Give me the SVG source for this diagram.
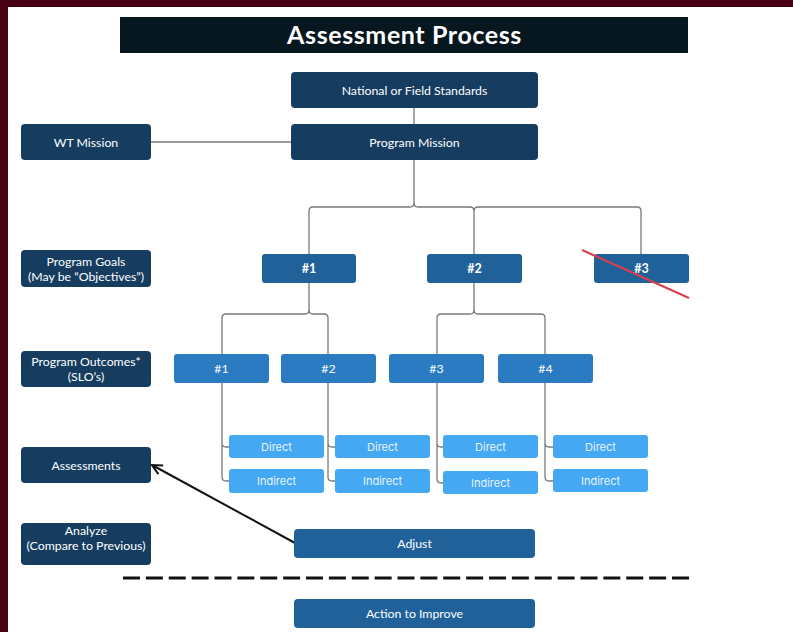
<svg xmlns="http://www.w3.org/2000/svg" width="793" height="632" viewBox="0 0 793 632">
<defs>
<style>
.navy{fill:#163d60}
.mid{fill:#21619a}
.out{fill:#2b7bc3}
.lt{fill:#45a8f3}
.t{font-family:"Lato","Open Sans",sans-serif;font-size:12.3px;fill:#ffffff;text-anchor:middle}
.tb{font-family:"Lato","Open Sans",sans-serif;font-size:12.5px;font-weight:bold;fill:#ffffff;text-anchor:middle}
.ti{font-family:"Inter","Open Sans",sans-serif;font-size:11px;fill:#e8f4ff;text-anchor:middle}
.c{fill:none;stroke:#7a7a7a;stroke-width:1.3}
</style>
<marker id="ah" viewBox="0 0 12 12" refX="11" refY="6" markerWidth="12" markerHeight="12" markerUnits="userSpaceOnUse" orient="auto">
<path d="M1,1 L11,6 L1,11" fill="none" stroke="#111" stroke-width="2"/>
</marker>
</defs>
<rect x="0" y="0" width="793" height="632" fill="#ffffff"/>
<rect x="0" y="0" width="793" height="7" fill="#4a0114"/>
<rect x="0" y="0" width="8" height="632" fill="#4a0114"/>

<g id="title">
<rect x="120" y="17" width="568" height="36" fill="#07171f"/>
<text x="404.5" y="43.5" font-family="Lato,'Open Sans',sans-serif" font-size="25" font-weight="bold" letter-spacing="0.6" fill="#ffffff" text-anchor="middle">Assessment Process</text>
</g>

<g id="connectors">
<path class="c" d="M414,108 V124"/>
<path class="c" d="M151,142 H291"/>
<path class="c" d="M414,160 V203 Q414,207 410,207 H313 Q309,207 309,211 V254"/>
<path class="c" d="M414,203 Q414,207 418,207 H470 Q474,207 474,211 V254"/>
<path class="c" d="M474,211 Q474,207 478,207 H637 Q641,207 641,211 V254"/>
<path class="c" d="M309,283 V310 Q309,314 305,314 H226 Q222,314 222,318 V354"/>
<path class="c" d="M309,310 Q309,314 313,314 H324 Q328,314 328,318 V354"/>
<path class="c" d="M474,283 V310 Q474,314 470,314 H441 Q437,314 437,318 V354"/>
<path class="c" d="M474,310 Q474,314 478,314 H541 Q545,314 545,318 V354"/>
<path class="c" d="M222,383 V477 Q222,481 226,481 H229 M222,443 Q222,447 226,447 H229"/>
<path class="c" d="M328,383 V477 Q328,481 332,481 H335 M328,443 Q328,447 332,447 H335"/>
<path class="c" d="M437,383 V479 Q437,483 441,483 H443 M437,443 Q437,447 441,447 H443"/>
<path class="c" d="M545,383 V477 Q545,481 549,481 H553 M545,443 Q545,447 549,447 H553"/>
<line x1="295" y1="543" x2="152" y2="465" stroke="#111" stroke-width="2" marker-end="url(#ah)"/>
<line x1="123" y1="578" x2="689" y2="578" stroke="#111" stroke-width="3" stroke-dasharray="17 5.875"/>
</g>

<g id="national"><rect class="navy" x="291" y="72" width="247" height="36" rx="4"/><text class="t" x="414.5" y="94.5">National or Field Standards</text></g>
<g id="program-mission"><rect class="navy" x="291" y="124" width="247" height="36" rx="4"/><text class="t" x="414.5" y="146.5">Program Mission</text></g>
<g id="wt-mission"><rect class="navy" x="21" y="124" width="130" height="36" rx="4"/><text class="t" x="86" y="146.5">WT Mission</text></g>
<g id="program-goals"><rect class="navy" x="21" y="250" width="130" height="37" rx="4"/><text class="t" x="86" y="266">Program Goals</text><text class="t" x="86" y="281">(May be “Objectives”)</text></g>
<g id="program-outcomes"><rect class="navy" x="21" y="351" width="130" height="36" rx="4"/><text class="t" x="86" y="366">Program Outcomes*</text><text class="t" x="86" y="381">(SLO’s)</text></g>
<g id="assessments"><rect class="navy" x="21" y="447" width="130" height="36" rx="4"/><text class="t" x="86" y="469.5">Assessments</text></g>
<g id="analyze"><rect class="navy" x="21" y="523" width="130" height="42" rx="4"/><text class="t" x="86" y="535">Analyze</text><text class="t" x="86" y="550">(Compare to Previous)</text></g>

<g id="goal-1"><rect class="mid" x="262" y="254" width="94" height="29" rx="3"/><text class="tb" x="309" y="273">#1</text></g>
<g id="goal-2"><rect class="mid" x="427" y="254" width="95" height="29" rx="3"/><text class="tb" x="474.5" y="273">#2</text></g>
<g id="goal-3"><rect class="mid" x="594" y="254" width="95" height="29" rx="3"/><text class="tb" x="641.5" y="273">#3</text><line x1="582" y1="250" x2="689" y2="298" stroke="#d8404f" stroke-width="2.2"/></g>

<g id="outcome-1"><rect class="out" x="174" y="354" width="95" height="29" rx="3"/><text class="t" x="221.5" y="373">#1</text></g>
<g id="outcome-2"><rect class="out" x="281" y="354" width="95" height="29" rx="3"/><text class="t" x="328.5" y="373">#2</text></g>
<g id="outcome-3"><rect class="out" x="389" y="354" width="95" height="29" rx="3"/><text class="t" x="436.5" y="373">#3</text></g>
<g id="outcome-4"><rect class="out" x="498" y="354" width="95" height="29" rx="3"/><text class="t" x="545.5" y="373">#4</text></g>

<g id="direct-1"><rect class="lt" x="229" y="435" width="95" height="23" rx="3"/><text class="ti" x="276.5" y="451">Direct</text></g>
<g id="indirect-1"><rect class="lt" x="229" y="469" width="95" height="24" rx="3"/><text class="ti" x="276.5" y="485">Indirect</text></g>
<g id="direct-2"><rect class="lt" x="335" y="435" width="95" height="23" rx="3"/><text class="ti" x="382.5" y="451">Direct</text></g>
<g id="indirect-2"><rect class="lt" x="335" y="469" width="95" height="24" rx="3"/><text class="ti" x="382.5" y="485">Indirect</text></g>
<g id="direct-3"><rect class="lt" x="443" y="435" width="95" height="23" rx="3"/><text class="ti" x="490.5" y="451">Direct</text></g>
<g id="indirect-3"><rect class="lt" x="443" y="471" width="95" height="23" rx="3"/><text class="ti" x="490.5" y="487">Indirect</text></g>
<g id="direct-4"><rect class="lt" x="553" y="435" width="95" height="23" rx="3"/><text class="ti" x="600.5" y="451">Direct</text></g>
<g id="indirect-4"><rect class="lt" x="553" y="469" width="95" height="23" rx="3"/><text class="ti" x="600.5" y="485">Indirect</text></g>

<g id="adjust"><rect class="mid" x="294" y="529" width="241" height="29" rx="4"/><text class="t" x="414.5" y="548">Adjust</text></g>
<g id="action"><rect class="mid" x="294" y="599" width="241" height="29" rx="4"/><text class="t" x="414.5" y="618">Action to Improve</text></g>
</svg>
